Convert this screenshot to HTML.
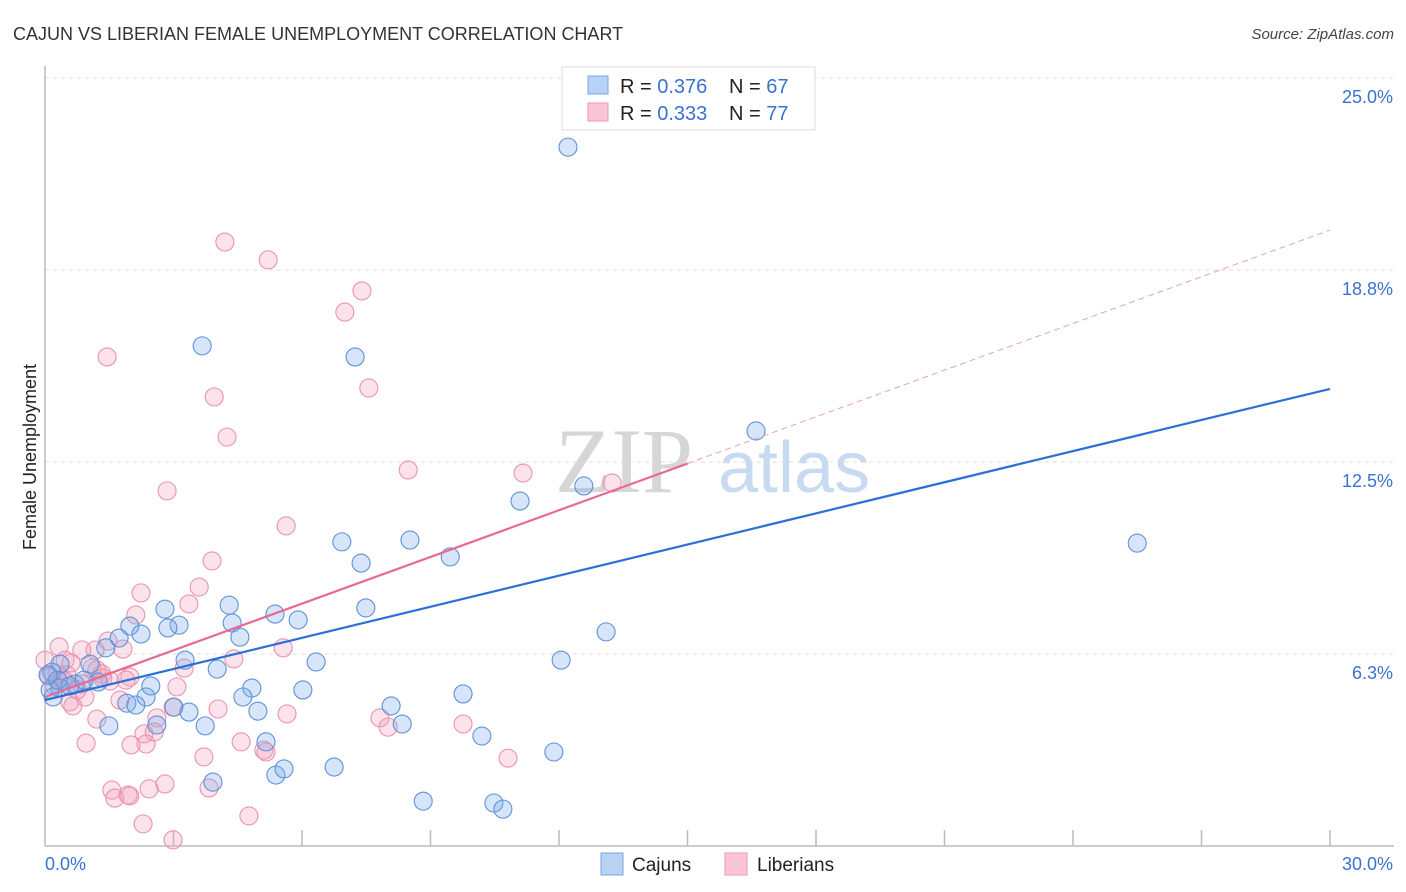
<!DOCTYPE html>
<html><head><meta charset="utf-8"><style>
body{margin:0;background:#fff;font-family:"Liberation Sans",sans-serif;}
#wrap{position:relative;width:1406px;height:892px;overflow:hidden;}
</style></head><body>
<div id="wrap">
<svg id="chart" width="1406" height="892" xmlns="http://www.w3.org/2000/svg">
<text x="13" y="40" font-size="18" fill="#333">CAJUN VS LIBERIAN FEMALE UNEMPLOYMENT CORRELATION CHART</text>
<text x="1394" y="39" font-size="15" fill="#444" font-style="italic" text-anchor="end">Source: ZipAtlas.com</text>
<text x="36" y="457" font-size="18" fill="#222" text-anchor="middle" transform="rotate(-90 36 457)">Female Unemployment</text>
<g>
<text x="555" y="492" font-size="92" font-family="Liberation Serif,serif" fill="#d6d6d6">ZIP</text>
<text x="718" y="492" font-size="72" fill="#c8daf2">atlas</text>
</g>
<g id="grid"></g><g id="axes"></g><g id="pts"></g><g id="lines"></g>
<g>
<rect x="562" y="67" width="253" height="63" fill="#fff" stroke="#ddd"/>
<rect x="588" y="76" width="20" height="18" fill="#b7d2f4" stroke="#7aa6e0"/>
<rect x="588" y="103" width="20" height="18" fill="#f9c6d6" stroke="#eb98b2"/>
<text x="620" y="93" font-size="20" fill="#222">R = <tspan fill="#3a72d0">0.376</tspan></text>
<text x="729" y="93" font-size="20" fill="#222">N = <tspan fill="#3a72d0">67</tspan></text>
<text x="620" y="120" font-size="20" fill="#222">R = <tspan fill="#3a72d0">0.333</tspan></text>
<text x="729" y="120" font-size="20" fill="#222">N = <tspan fill="#3a72d0">77</tspan></text>
</g>
<g>
<rect x="601" y="853" width="22" height="22" fill="#b7d2f4" stroke="#7aa6e0"/>
<text x="632" y="871" font-size="19" fill="#222">Cajuns</text>
<rect x="725" y="853" width="22" height="22" fill="#f9c6d6" stroke="#eb98b2"/>
<text x="757" y="871" font-size="19" fill="#222">Liberians</text>
</g>
</svg>
</div>
<script>
const yTicks=[6.25,12.5,18.75,25];
const yTickLabels=["6.3%","12.5%","18.8%","25.0%"];
const xTickLabels=["0.0%","30.0%"];
const cajunX=[12.21,3.67,7.24,16.60,12.58,11.09,25.50,6.93,8.52,9.46,7.38,2.80,4.30,5.37,7.49,5.91,1.98,3.13,2.87,4.37,2.24,1.73,1.42,4.55,13.10,12.05,3.27,6.33,1.05,4.02,0.35,0.16,1.24,0.70,0.35,0.19,2.47,4.83,6.02,4.62,2.36,9.76,1.91,2.12,3.01,3.36,4.97,8.08,1.49,2.61,3.74,8.34,10.20,5.16,11.88,3.92,5.39,5.58,6.75,8.83,10.48,10.69,0.12,0.30,0.58,0.91,0.07];
const cajunY=[22.75,16.28,15.92,13.51,11.72,11.23,9.86,9.90,9.96,9.41,9.21,7.71,7.84,7.55,7.75,7.36,7.16,7.19,7.10,7.26,6.90,6.77,6.45,6.80,6.97,6.05,6.05,5.99,5.92,5.76,5.92,5.66,5.34,5.27,5.14,4.85,5.21,5.14,5.08,4.85,4.85,4.95,4.65,4.59,4.52,4.36,4.39,4.56,3.91,3.94,3.91,3.97,3.58,3.39,3.06,2.08,2.31,2.51,2.57,1.46,1.40,1.20,5.08,5.40,5.21,5.40,5.57];
const libX=[4.20,5.21,7.40,7.00,1.45,7.56,3.95,4.25,8.48,11.16,13.24,2.85,5.63,3.90,3.60,2.24,3.36,2.12,0.33,1.17,1.47,0.86,1.82,0.47,0.61,4.41,5.56,3.25,1.21,1.33,1.98,0.28,0.44,0.09,3.08,0.93,0.58,0.65,1.75,4.04,2.99,1.21,2.61,7.82,9.76,8.01,2.55,2.31,4.58,2.01,0.96,2.36,5.65,3.71,5.16,5.11,10.81,1.56,1.98,1.63,1.94,2.43,2.80,3.83,2.29,4.76,2.99,0.40,0.21,0.00,1.52,1.35,0.86,0.51,1.10,0.75,1.89];
const libY=[19.66,19.08,18.07,17.38,15.92,14.91,14.62,13.31,12.24,12.14,11.82,11.56,10.42,9.28,8.43,8.24,7.88,7.52,6.48,6.38,6.67,6.38,6.41,6.05,5.96,6.09,6.45,5.79,5.73,5.60,5.50,5.60,5.40,5.53,5.18,4.85,4.69,4.56,4.75,4.46,4.52,4.13,4.17,4.17,3.97,3.87,3.71,3.65,3.39,3.29,3.35,3.32,4.30,2.90,3.06,3.12,2.86,1.82,1.63,1.56,1.66,1.86,2.02,1.89,0.72,0.98,0.20,5.40,5.24,6.05,5.37,5.47,5.27,5.57,5.79,5.08,5.40];
const cajunTrend=[4.75,14.88];
const libTrend=[4.85,20.05];
const libSolidEnd=15;

const NS="http://www.w3.org/2000/svg";
const X0=45,X1=1330,Y0=846;
function xs(v){return X0+(X1-X0)*v/30;}
function ys(v){return Y0-v*30.72;}
function mk(tag,attrs,parent){const e=document.createElementNS(NS,tag);for(const k in attrs)e.setAttribute(k,attrs[k]);parent.appendChild(e);return e;}
const grid=document.getElementById('grid'),axes=document.getElementById('axes'),pts=document.getElementById('pts'),lines=document.getElementById('lines');
yTicks.forEach((t,i)=>{
  const l=mk('line',{x1:X0,x2:1394,y1:ys(t),y2:ys(t),stroke:'#ddd','stroke-dasharray':'4 4'},grid);
  
  
  const tx=mk('text',{x:1393,y:ys(t)+25,'font-size':18,fill:'#3a72d0','text-anchor':'end'},axes);
  tx.textContent=yTickLabels[i];
  
  
});
const ax=mk('line',{x1:X0,x2:X0,y1:66,y2:Y0,stroke:'#bbb','stroke-width':1.5},axes);


const bx=mk('line',{x1:X0,x2:1394,y1:Y0,y2:Y0,stroke:'#bbb','stroke-width':1.5},axes);


for(let i=1;i<=10;i++){
  const t=mk('line',{x1:xs(i*3),x2:xs(i*3),y1:830,y2:Y0,stroke:'#bbb','stroke-width':1.5},axes);
  
  
}
const xl0=mk('text',{x:45,y:870,'font-size':18,fill:'#3a72d0'},axes);xl0.textContent=xTickLabels[0];


const xl1=mk('text',{x:1393,y:870,'font-size':18,fill:'#3a72d0','text-anchor':'end'},axes);xl1.textContent=xTickLabels[1];


libX.forEach((v,i)=>{
  const c=mk('circle',{cx:xs(v),cy:ys(libY[i]),r:9,fill:'rgba(244,160,188,0.3)',stroke:'#ea94ae','stroke-width':1.1},pts);
  
  
});
cajunX.forEach((v,i)=>{
  const c=mk('circle',{cx:xs(v),cy:ys(cajunY[i]),r:9,fill:'rgba(120,170,235,0.3)',stroke:'#5e92d8','stroke-width':1.1},pts);
  
  
});
const bl=mk('line',{x1:xs(0),y1:ys(cajunTrend[0]),x2:xs(30),y2:ys(cajunTrend[1]),stroke:'#2c6fd6','stroke-width':2.2},lines);


const ym=libTrend[0]+(libTrend[1]-libTrend[0])*libSolidEnd/30;
const pl=mk('line',{x1:xs(0),y1:ys(libTrend[0]),x2:xs(libSolidEnd),y2:ys(ym),stroke:'#e86a94','stroke-width':2.2},lines);


const pd=mk('line',{x1:xs(libSolidEnd),y1:ys(ym),x2:xs(30),y2:ys(libTrend[1]),stroke:'#e8a0b8','stroke-width':1,'stroke-dasharray':'6 4'},lines);


</script>
</body></html>
